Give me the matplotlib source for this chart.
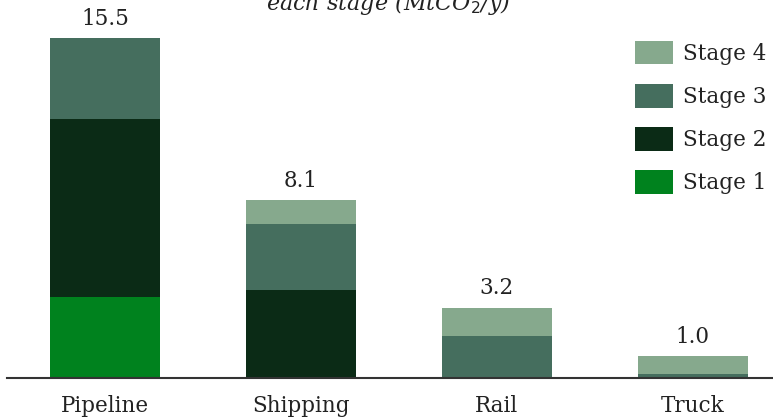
import matplotlib.pyplot as plt
import numpy as np

modes = ['Pipeline', 'Shipping', 'Rail', 'Truck']
stages = ['Stage 1', 'Stage 2', 'Stage 3', 'Stage 4']
stage1 = [3.7, 0.0, 0.0, 0.0]
stage2 = [8.1, 4.0, 0.0, 0.0]
stage3 = [3.7, 3.0, 1.9, 0.2]
stage4 = [0.0, 1.1, 1.3, 0.8]
totals = [15.5, 8.1, 3.2, 1.0]
colors = ['#00821E', '#0B2B16', '#456E5E', '#86A98D']

serif = 'DejaVu Serif'

fig = plt.figure(figsize=(7.73, 4.20), dpi=100)
ax = fig.add_axes([7 / 773, 0.1, 1 - 7 / 773, 0.9])

x = np.arange(len(modes))
bottom = np.zeros(len(modes))
handles = []
for vals, c, lab in zip([stage1, stage2, stage3, stage4], colors, stages):
    b = ax.bar(x, vals, width=0.56, bottom=bottom, color=c, label=lab)
    handles.append(b)
    bottom += np.array(vals)

# totals above the stacks
for xi, t in zip(x, totals):
    ax.annotate(f'{t:.1f}', (xi, t), xytext=(0, 6), textcoords='offset points',
                ha='center', va='bottom', fontsize=15.5, family=serif, color='#222222')

ax.set_xlim(-0.5, 3.41)
ax.set_ylim(0, 17.23)
ax.set_xticks(x)
ax.set_xticklabels(modes, fontsize=15.5, family=serif, color='#222222')
ax.tick_params(axis='x', length=0, pad=12)
ax.set_yticks([])
for s in ['top', 'right', 'left']:
    ax.spines[s].set_visible(False)
ax.spines['bottom'].set_color('#333333')
ax.spines['bottom'].set_linewidth(1.5)

leg = fig.legend(handles[::-1], stages[::-1], loc='upper left',
                 bbox_to_anchor=(635 / 773, 1 - 41 / 420), borderpad=0, borderaxespad=0,
                 frameon=False, prop={'family': serif, 'size': 15.5},
                 handlelength=1.76, handleheight=1.3, labelspacing=0.89, handletextpad=0.45)
for t in leg.get_texts():
    t.set_color('#222222')

fig.text(0.502, 1 - 10 / 420, 'each stage (MtCO$_2$/y)', ha='center', va='baseline',
         fontsize=16, style='italic', family=serif, color='#222222')

fig.savefig('out.png', dpi=100)
